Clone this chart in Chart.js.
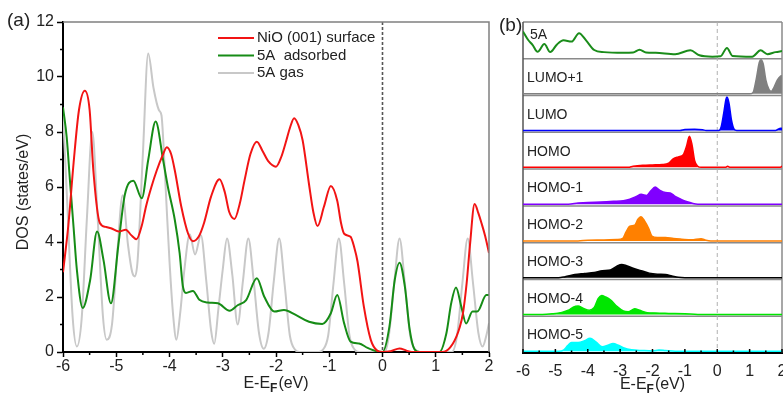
<!DOCTYPE html>
<html>
<head>
<meta charset="utf-8">
<script src="https://cdn.jsdelivr.net/npm/chart.js@4.4.1/dist/chart.umd.min.js"></script>
<style>
html, body { margin: 0; padding: 0; background: #fff; overflow: hidden; }
#wrap { position: relative; width: 783px; height: 394px; overflow: hidden; }
#boxA { position: absolute; left: 0; top: 0; }
#boxB { position: absolute; left: 495px; top: 0; }
</style>
</head>
<body>
<div id="wrap">
  <div id="boxA"><canvas id="chartA" width="500" height="394"></canvas></div>
  <div id="boxB"><canvas id="chartB" width="310" height="394"></canvas></div>
</div>
<script>
// ---- panel (a): total DOS ----
const nioE = [-6.0, -5.9, -5.8, -5.7, -5.59, -5.5, -5.43, -5.31, -5.2, -5.1, -4.95, -4.82, -4.72, -4.62, -4.52, -4.44, -4.34, -4.24, -4.13, -4.05, -3.97, -3.9, -3.78, -3.65, -3.56, -3.45, -3.35, -3.22, -3.06, -2.96, -2.88, -2.78, -2.68, -2.59, -2.48, -2.36, -2.25, -2.15, -2.0, -1.9, -1.82, -1.73, -1.66, -1.58, -1.5, -1.38, -1.3, -1.22, -1.1, -0.97, -0.85, -0.78, -0.72, -0.6, -0.53, -0.47, -0.35, -0.22, -0.1, 0.0, 0.15, 0.32, 0.45, 0.55, 1.13, 1.32, 1.45, 1.51, 1.58, 1.64, 1.73, 1.8, 1.86, 1.93, 2.0];
const nioDos = [2.9, 4.6, 6.9, 8.8, 9.5, 8.8, 6.6, 4.7, 4.55, 4.5, 4.38, 4.45, 4.25, 4.1, 4.6, 5.3, 6.0, 6.6, 7.15, 7.45, 7.2, 6.6, 5.3, 4.3, 4.03, 4.2, 4.7, 5.65, 6.28, 5.8, 5.1, 4.84, 5.4, 6.25, 7.2, 7.65, 7.3, 6.95, 6.74, 7.1, 7.6, 8.2, 8.5, 8.25, 7.7, 6.1, 5.1, 4.58, 5.28, 6.04, 5.5, 4.7, 4.3, 4.19, 3.8, 3.3, 1.65, 0.44, 0.05, 0.0, 0.03, 0.13, 0.05, 0.0, 0.0, 0.3, 0.9, 1.4, 2.5, 3.83, 5.38, 5.05, 4.68, 4.2, 3.6];

const adsE = [-6.0, -5.93, -5.87, -5.8, -5.74, -5.63, -5.49, -5.36, -5.24, -5.1, -4.96, -4.84, -4.68, -4.52, -4.4, -4.26, -4.12, -4.03, -3.9, -3.81, -3.75, -3.69, -3.56, -3.44, -3.28, -3.09, -2.87, -2.72, -2.56, -2.36, -2.22, -2.03, -1.85, -1.63, -1.38, -1.13, -0.97, -0.85, -0.72, -0.6, -0.44, -0.28, -0.12, 0.0, 0.13, 0.23, 0.32, 0.42, 0.51, 0.6, 0.7, 1.07, 1.2, 1.29, 1.38, 1.48, 1.57, 1.69, 1.78, 1.95, 2.0];
const adsDos = [8.9, 7.8, 6.25, 4.5, 3.0, 1.6, 2.62, 4.38, 3.35, 1.77, 3.9, 5.71, 6.23, 5.59, 6.98, 8.38, 6.98, 6.0, 4.8, 3.6, 2.4, 2.15, 2.22, 1.9, 1.8, 1.77, 1.5, 1.7, 1.89, 2.68, 2.01, 1.47, 1.53, 1.35, 1.1, 1.02, 1.41, 2.07, 1.04, 0.38, 0.31, 0.15, 0.03, 0.0, 0.92, 2.62, 3.25, 2.38, 0.82, 0.1, 0.0, 0.0, 0.68, 1.77, 2.35, 1.65, 1.04, 1.47, 1.47, 2.07, 2.07];

const gasE = [-6.0, -5.92, -5.82, -5.74, -5.65, -5.55, -5.45, -5.35, -5.25, -5.18, -5.08, -4.98, -4.88, -4.78, -4.7, -4.65, -4.6, -4.5, -4.4, -4.3, -4.2, -4.15, -4.12, -4.06, -4.0, -3.93, -3.87, -3.8, -3.72, -3.62, -3.52, -3.41, -3.31, -3.22, -3.16, -3.08, -3.0, -2.92, -2.82, -2.72, -2.62, -2.52, -2.42, -2.32, -2.23, -2.14, -2.04, -1.94, -1.84, -1.74, -1.64, -1.56, -1.2, -1.12, -1.02, -0.92, -0.82, -0.72, -0.62, -0.52, -0.44, 0.04, 0.12, 0.22, 0.32, 0.42, 0.52, 0.62, 0.7, 1.3, 1.4, 1.5, 1.6, 1.7, 1.8, 1.88, 1.95, 2.0];
const gasDos = [8.7, 5.4, 1.3, 0.2, 1.2, 4.9, 8.0, 4.9, 1.3, 0.45, 1.0, 3.6, 5.7, 3.9, 2.9, 2.75, 3.3, 7.2, 10.85, 9.6, 8.8, 8.6, 7.8, 5.5, 3.3, 1.3, 0.45, 1.4, 3.0, 4.28, 3.55, 4.25, 2.6, 0.8, 0.3, 1.6, 3.0, 4.13, 2.8, 1.0, 2.6, 4.13, 2.6, 0.7, 0.12, 0.7, 2.6, 4.13, 2.5, 0.6, 0.08, 0.0, 0.0, 0.08, 0.6, 2.5, 4.13, 2.5, 0.6, 0.08, 0.0, 0.0, 0.6, 2.5, 4.13, 2.5, 0.6, 0.08, 0.0, 0.0, 0.6, 2.5, 4.13, 2.5, 0.7, 0.2, 0.6, 1.05];

const legendNames = ['NiO (001) surface', '5A  adsorbed', '5A gas'];

// ---- panel (b): molecular orbital projected DOS ----
const rowNames = ['5A', 'LUMO+1', 'LUMO', 'HOMO', 'HOMO-1', 'HOMO-2', 'HOMO-3', 'HOMO-4', 'HOMO-5'];

const molE = [-6.0, -5.85, -5.7, -5.55, -5.34, -5.16, -4.95, -4.75, -4.5, -4.27, -4.04, -3.8, -3.5, -2.9, -2.6, -2.4, -2.2, -1.9, -1.3, -0.83, -0.55, -0.15, 0.1, 0.3, 0.47, 1.08, 1.34, 1.55, 1.8, 2.0];
const molDos = [7.3, 5.0, 3.4, 1.5, 3.7, 1.4, 3.6, 4.8, 4.4, 6.8, 4.6, 2.0, 1.4, 1.2, 1.3, 2.1, 1.3, 1.2, 0.8, 1.9, 0.5, 0.1, 0.2, 2.6, 0.3, 0.1, 1.9, 0.8, 1.4, 1.7];

const lumo1E = [-6.0, 1.0, 1.1, 1.2, 1.3, 1.35, 1.42, 1.5, 1.6, 1.67, 1.75, 1.85, 1.95, 2.0];
const lumo1Dos = [0, 0, 0.3, 4.0, 9.0, 9.7, 8.5, 4.0, 1.2, 0.7, 1.8, 3.8, 5.0, 5.2];

const lumoE = [-6.0, -1.15, -1.0, -0.7, -0.45, -0.35, 0.05, 0.12, 0.2, 0.27, 0.3, 0.36, 0.44, 0.52, 0.6, 1.8, 1.9, 2.0];
const lumoDos = [0, 0, 0.3, 0.35, 0.25, 0, 0, 1.0, 5.0, 9.0, 9.6, 8.0, 3.0, 0.4, 0, 0, 0.5, 0.7];

const homoE = [-6.0, -2.75, -2.6, -2.3, -2.0, -1.7, -1.5, -1.35, -1.2, -1.05, -0.95, -0.86, -0.78, -0.7, -0.6, -0.5, 0.25, 0.32, 0.4, 1.95, 2.0];
const homoDos = [0, 0, 0.3, 0.6, 0.7, 0.8, 1.2, 2.5, 3.0, 3.6, 6.0, 8.9, 6.5, 2.0, 0.3, 0, 0, 0.3, 0, 0, 0.4];

const homo1E = [-6.0, -4.6, -4.3, -4.0, -3.6, -3.2, -2.9, -2.7, -2.5, -2.35, -2.18, -2.05, -1.92, -1.78, -1.6, -1.45, -1.3, -1.1, -0.9, -0.75, -0.6, 2.0];
const homo1Dos = [0, 0, 0.3, 0.5, 0.6, 0.8, 1.0, 1.4, 2.2, 2.8, 2.5, 3.8, 4.9, 4.0, 3.3, 3.2, 2.2, 1.3, 0.6, 0.2, 0, 0];

const homo2E = [-6.0, -4.3, -4.0, -3.5, -3.1, -2.92, -2.82, -2.7, -2.55, -2.45, -2.36, -2.25, -2.12, -2.02, -1.85, -1.6, -1.35, -1.1, -0.8, -0.5, -0.35, -0.2, 2.0];
const homo2Dos = [0, 0, 0.2, 0.25, 0.4, 0.7, 2.5, 4.2, 4.5, 6.2, 6.9, 5.8, 3.6, 1.4, 1.0, 1.0, 0.7, 0.5, 0.3, 0.6, 0.2, 0, 0];

const homo3E = [-6.0, -4.9, -4.7, -4.4, -4.1, -3.8, -3.55, -3.3, -3.1, -2.95, -2.8, -2.6, -2.35, -2.1, -1.85, -1.6, -1.4, -1.2, -1.0, 2.0];
const homo3Dos = [0, 0, 0.3, 0.9, 1.2, 1.5, 2.0, 2.2, 3.3, 3.8, 3.4, 2.7, 2.0, 1.3, 1.0, 0.9, 0.5, 0.1, 0, 0];

const homo4E = [-6.0, -5.4, -5.1, -4.8, -4.6, -4.45, -4.3, -4.15, -3.95, -3.8, -3.68, -3.57, -3.45, -3.3, -3.1, -2.9, -2.75, -2.55, -2.4, -2.2, -1.9, -1.5, -1.0, -0.6, 2.0];
const homo4Dos = [0, 0, 0.2, 0.6, 1.2, 2.1, 2.4, 1.8, 1.2, 2.0, 4.5, 5.4, 5.0, 4.2, 2.3, 1.0, 0.8, 1.6, 1.2, 0.6, 0.4, 0.3, 0.2, 0, 0];

const homo5E = [-6.0, -4.9, -4.75, -4.62, -4.5, -4.3, -4.1, -3.93, -3.75, -3.55, -3.38, -3.22, -3.05, -2.9, -2.65, -2.3, -2.0, -1.8, -1.6, -1.3, 2.0];
const homo5Dos = [0, 0, 0.3, 1.6, 2.5, 2.5, 3.0, 3.7, 2.7, 1.3, 1.7, 2.2, 1.7, 1.0, 0.4, 0.2, 0.1, 0.35, 0.2, 0, 0];

const energyTicks = [-6, -5, -4, -3, -2, -1, 0, 1, 2];

const rowE = [molE, lumo1E, lumoE, homoE, homo1E, homo2E, homo3E, homo4E, homo5E];
const rowDos = [molDos, lumo1Dos, lumoDos, homoDos, homo1Dos, homo2Dos, homo3Dos, homo4Dos, homo5Dos];
const rowColors = ['#1a8c1a', '#808080', '#0000ff', '#ff0000', '#8000ff', '#ff8000', '#000000', '#00e600', '#00ffff'];

const FONT = "'Liberation Sans', Arial, sans-serif";
Chart.defaults.font.family = FONT;
Chart.defaults.color = '#222';

const toXY = (xs, ys) => xs.map((x, i) => ({ x: x, y: ys[i] }));

// E-E_F(eV) with a subscript F
function drawEnergyTitle(ctx, cx, cy) {
  ctx.save();
  ctx.fillStyle = '#222';
  ctx.textBaseline = 'middle';
  ctx.textAlign = 'left';
  ctx.font = '16px ' + FONT;
  const w1 = ctx.measureText('E-E').width;
  const w3 = ctx.measureText('(eV)').width;
  ctx.font = 'bold 12px ' + FONT;
  const w2 = ctx.measureText('F').width + 1;
  let x = cx - (w1 + w2 + w3) / 2;
  ctx.font = '16px ' + FONT;
  ctx.fillText('E-E', x, cy);
  ctx.font = 'bold 12px ' + FONT;
  ctx.fillText('F', x + w1, cy + 5);
  ctx.font = '16px ' + FONT;
  ctx.fillText('(eV)', x + w1 + w2, cy);
  ctx.restore();
}

const panelA = {
  id: 'panelA',
  afterDatasetsDraw(chart) {
    const { ctx, chartArea: a, scales: { x, y } } = chart;
    ctx.save();
    // Fermi level
    const x0 = x.getPixelForValue(0);
    ctx.strokeStyle = '#555';
    ctx.lineWidth = 1.6;
    ctx.setLineDash([3, 2]);
    ctx.beginPath();
    ctx.moveTo(x0, a.top);
    ctx.lineTo(x0, a.bottom);
    ctx.stroke();
    ctx.setLineDash([]);
    // top / right frame
    ctx.strokeStyle = '#808080';
    ctx.lineWidth = 1.5;
    ctx.beginPath();
    ctx.moveTo(a.left, a.top);
    ctx.lineTo(a.right, a.top);
    ctx.lineTo(a.right, a.bottom);
    ctx.stroke();
    // minor ticks
    ctx.strokeStyle = '#000';
    ctx.lineWidth = 1.5;
    ctx.beginPath();
    for (let v = -5.5; v < 2; v += 1) {
      const px = x.getPixelForValue(v);
      ctx.moveTo(px, a.bottom);
      ctx.lineTo(px, a.bottom + 3);
    }
    for (let v = 1; v < 12; v += 2) {
      const py = y.getPixelForValue(v);
      ctx.moveTo(a.left, py);
      ctx.lineTo(a.left - 3, py);
    }
    ctx.stroke();

    // legend
    const colors = chart.data.datasets.map(d => d.borderColor);
    ctx.font = '15px ' + FONT;
    ctx.textBaseline = 'middle';
    ctx.fillStyle = '#222';
    legendNames.forEach((name, i) => {
      const ly = 38 + i * 17.5;
      ctx.strokeStyle = colors[i];
      ctx.lineWidth = 2;
      ctx.beginPath();
      ctx.moveTo(218, ly);
      ctx.lineTo(254, ly);
      ctx.stroke();
      ctx.fillText(name, 257, ly);
    });

    // axis titles and panel tag
    ctx.save();
    ctx.translate(24, 192);
    ctx.rotate(-Math.PI / 2);
    ctx.textAlign = 'center';
    ctx.font = '16px ' + FONT;
    ctx.fillText('DOS (states/eV)', 0, 0);
    ctx.restore();
    drawEnergyTitle(ctx, (a.left + a.right) / 2, 384);
    ctx.font = '19px ' + FONT;
    ctx.textAlign = 'left';
    ctx.fillText('(a)', 7, 21);
    ctx.restore();
  }
};

new Chart(document.getElementById('chartA'), {
  type: 'line',
  data: {
    datasets: [
      { label: legendNames[0], data: toXY(nioE, nioDos), borderColor: '#f21414' },
      { label: legendNames[1], data: toXY(adsE, adsDos), borderColor: '#168c16' },
      { label: legendNames[2], data: toXY(gasE, gasDos), borderColor: '#c8c8c8' }
    ]
  },
  options: {
    responsive: false,
    animation: false,
    layout: { padding: { left: 0, top: 22, right: 11, bottom: 0 } },
    plugins: { legend: { display: false }, tooltip: { enabled: false } },
    elements: {
      point: { radius: 0 },
      line: { borderWidth: 2, cubicInterpolationMode: 'monotone', fill: false }
    },
    scales: {
      x: {
        type: 'linear', min: -6, max: 2,
        afterFit: s => { s.height = 42; },
        afterBuildTicks: s => { s.ticks = energyTicks.map(v => ({ value: v })); },
        ticks: { padding: 0, font: { size: 16 } },
        grid: { drawOnChartArea: false, tickLength: 5, tickColor: '#000', tickWidth: 1.5 },
        border: { color: '#000', width: 2 }
      },
      y: {
        type: 'linear', min: 0, max: 12,
        afterFit: s => { s.width = 63; },
        ticks: { stepSize: 2, padding: 3, font: { size: 16 } },
        grid: { drawOnChartArea: false, tickLength: 6, tickColor: '#000', tickWidth: 1.5 },
        border: { color: '#000', width: 2 }
      }
    }
  },
  plugins: [panelA]
});

// ---- panel (b) ----
// left-hand stacked axes are laid out last-first, so add them bottom row first
const rowScales = {};
for (let i = rowNames.length - 1; i >= 0; i--) {
  rowScales['r' + i] = {
    type: 'linear', position: 'left', stack: 'rows', stackWeight: 1,
    min: -0.5, max: 10,
    ticks: { display: false },
    grid: { display: false },
    border: { display: false },
    afterFit: s => { s.width = 0; }
  };
}

const panelB = {
  id: 'panelB',
  beforeDatasetsDraw(chart) {
    const { ctx, chartArea: a, scales } = chart;
    ctx.save();
    ctx.strokeStyle = '#8a8a8a';
    ctx.lineWidth = 1.5;
    ctx.beginPath();
    rowNames.forEach((n, i) => {
      const s = scales['r' + i];
      if (s.bottom < a.bottom - 2) {
        ctx.moveTo(a.left, s.bottom);
        ctx.lineTo(a.right, s.bottom);
      }
    });
    ctx.moveTo(a.left, a.top);
    ctx.lineTo(a.right, a.top);
    ctx.moveTo(a.right, a.top);
    ctx.lineTo(a.right, a.bottom);
    ctx.stroke();
    ctx.strokeStyle = '#555';
    ctx.beginPath();
    ctx.moveTo(a.left, a.top);
    ctx.lineTo(a.left, a.bottom);
    ctx.stroke();
    // Fermi level
    const x0 = scales.x.getPixelForValue(0);
    ctx.strokeStyle = '#b0b0b0';
    ctx.lineWidth = 1;
    ctx.setLineDash([4, 3]);
    ctx.beginPath();
    ctx.moveTo(x0, a.top);
    ctx.lineTo(x0, a.bottom);
    ctx.stroke();
    ctx.restore();
  },
  afterDraw(chart) {
    const { ctx, chartArea: a, scales } = chart;
    const x = scales.x;
    ctx.save();
    // inward ticks on the energy axis
    ctx.strokeStyle = '#000';
    ctx.lineWidth = 1.5;
    ctx.beginPath();
    for (let v = -6; v <= 2; v += 0.5) {
      const px = x.getPixelForValue(v);
      const len = Number.isInteger(v) ? 4 : 2.5;
      ctx.moveTo(px, a.bottom);
      ctx.lineTo(px, a.bottom - len);
    }
    ctx.stroke();
    // row labels
    ctx.fillStyle = '#222';
    ctx.font = '14px ' + FONT;
    ctx.textBaseline = 'middle';
    ctx.textAlign = 'left';
    rowNames.forEach((n, i) => {
      const s = scales['r' + i];
      const ly = i === 0 ? s.top + 13 : (s.top + s.bottom) / 2 + 1;
      ctx.fillText(n, a.left + (i === 0 ? 7 : 4), ly);
    });
    drawEnergyTitle(ctx, (a.left + a.right) / 2, 385);
    ctx.font = '19px ' + FONT;
    ctx.fillText('(b)', 4, 26);
    ctx.restore();
  }
};

new Chart(document.getElementById('chartB'), {
  type: 'line',
  data: {
    datasets: rowNames.map((n, i) => ({
      label: n,
      data: toXY(rowE[i], rowDos[i]),
      yAxisID: 'r' + i,
      xAxisID: 'x',
      borderColor: rowColors[i],
      backgroundColor: rowColors[i],
      borderWidth: i === 0 ? 2 : 1.5,
      fill: i === 0 ? false : 'origin'
    }))
  },
  options: {
    responsive: false,
    animation: false,
    layout: { padding: { left: 28, top: 22, right: 23, bottom: 0 } },
    plugins: { legend: { display: false }, tooltip: { enabled: false } },
    elements: {
      point: { radius: 0 },
      line: { cubicInterpolationMode: 'monotone' }
    },
    scales: Object.assign({
      x: {
        type: 'linear', position: 'bottom', min: -6, max: 2,
        afterFit: s => { s.height = 41; },
        afterBuildTicks: s => { s.ticks = energyTicks.map(v => ({ value: v })); },
        ticks: { padding: 9, font: { size: 16 } },
        grid: { drawOnChartArea: false, drawTicks: false },
        border: { color: '#000', width: 2 }
      }
    }, rowScales)
  },
  plugins: [panelB]
});
</script>
</body>
</html>
